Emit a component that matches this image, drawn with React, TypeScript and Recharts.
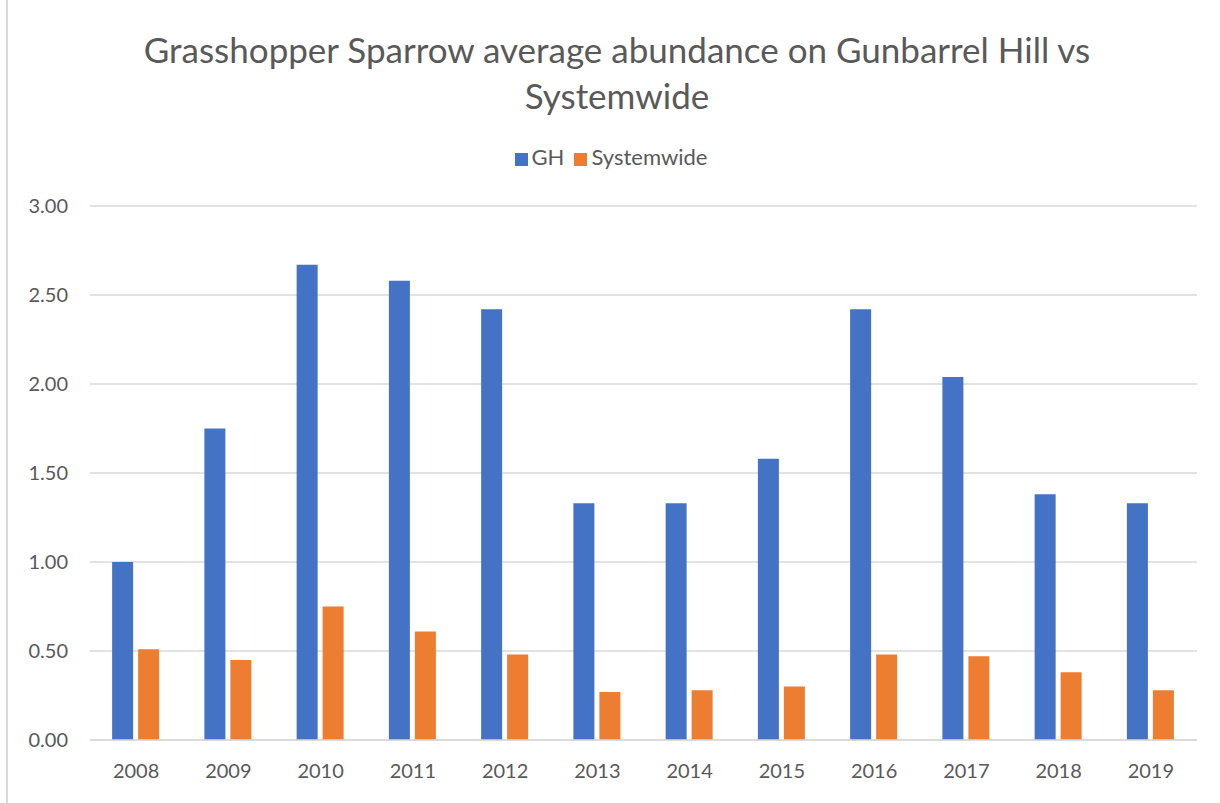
import React from 'react';
import { BarChart, Bar, XAxis, YAxis, CartesianGrid, Legend } from 'recharts';

const YEARS = ['2008', '2009', '2010', '2011', '2012', '2013', '2014', '2015', '2016', '2017', '2018', '2019'];
const GH = [1.0, 1.75, 2.67, 2.58, 2.42, 1.33, 1.33, 1.58, 2.42, 2.04, 1.38, 1.33];
const SYSTEMWIDE = [0.51, 0.45, 0.75, 0.61, 0.48, 0.27, 0.28, 0.3, 0.48, 0.47, 0.38, 0.28];
const Y_TICKS = [0, 0.5, 1, 1.5, 2, 2.5, 3];

const data = YEARS.map((year, i) => ({ year, GH: GH[i], Systemwide: SYSTEMWIDE[i] }));

const FONT = 'Lato, "Open Sans", sans-serif';
const TEXT = '#595959';

const App = () => (
  <div
    style={{
      position: 'absolute',
      left: 0,
      top: 0,
      width: 1220,
      height: 803,
      background: '#fff',
      fontFamily: FONT,
    }}
  >
    <div style={{ position: 'absolute', left: 6, top: 0, bottom: 0, borderLeft: '2px solid #D9D9D9' }} />
    <div
      style={{
        position: 'absolute',
        left: 0,
        top: 26,
        width: 1234,
        textAlign: 'center',
        color: TEXT,
        fontSize: 35,
        lineHeight: '46px',
        fontWeight: 400,
      }}
    >
      Grasshopper Sparrow average abundance on Gunbarrel Hill vs
      <br />
      Systemwide
    </div>
    <BarChart
      width={1220}
      height={803}
      data={data}
      margin={{ top: 179, right: 23, bottom: 33, left: 0 }}
      barCategoryGap="24%"
      barGap={5}
    >
      <CartesianGrid vertical={false} stroke="#D9D9D9" strokeWidth={1.5} />
      <XAxis
        dataKey="year"
        axisLine={{ stroke: '#D9D9D9', strokeWidth: 1.5 }}
        tickLine={false}
        tickSize={0}
        tickMargin={24}
        tick={{ fill: TEXT, fontSize: 20, fontFamily: FONT }}
        height={30}
      />
      <YAxis
        domain={[0, 3]}
        ticks={Y_TICKS}
        tickFormatter={(v: number) => v.toFixed(2)}
        axisLine={false}
        tickLine={false}
        tickSize={0}
        tickMargin={22}
        width={90}
        tick={{ fill: TEXT, fontSize: 20, fontFamily: FONT }}
      />
      <Legend
        verticalAlign="top"
        align="center"
        iconType="square"
        iconSize={13}
        wrapperStyle={{ top: 143, left: 6, width: 1220, fontSize: 22, fontFamily: FONT }}
        formatter={(value: string) => <span style={{ color: TEXT }}>{value}</span>}
      />
      <Bar dataKey="GH" fill="#4472C4" isAnimationActive={false} />
      <Bar dataKey="Systemwide" fill="#ED7D31" isAnimationActive={false} />
    </BarChart>
  </div>
);

export default App;
